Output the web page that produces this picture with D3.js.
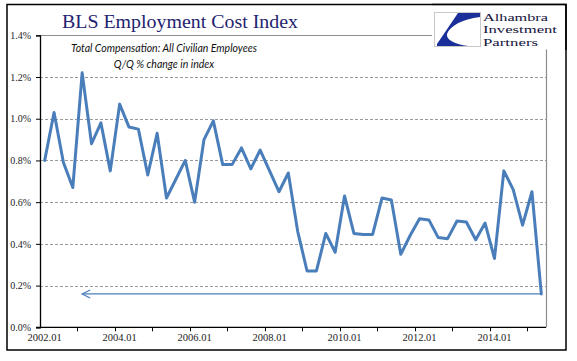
<!DOCTYPE html>
<html>
<head>
<meta charset="utf-8">
<script src="https://cdn.jsdelivr.net/npm/d3@7"></script>
<style>
  html, body { margin: 0; padding: 0; background: #fff; }
  svg { display: block; }
</style>
</head>
<body>
<svg id="chart" width="577" height="361"></svg>
<script>
// ---- data ----
const categories = [
  "2002.01","2002.02","2002.03","2002.04",
  "2003.01","2003.02","2003.03","2003.04",
  "2004.01","2004.02","2004.03","2004.04",
  "2005.01","2005.02","2005.03","2005.04",
  "2006.01","2006.02","2006.03","2006.04",
  "2007.01","2007.02","2007.03","2007.04",
  "2008.01","2008.02","2008.03","2008.04",
  "2009.01","2009.02","2009.03","2009.04",
  "2010.01","2010.02","2010.03","2010.04",
  "2011.01","2011.02","2011.03","2011.04",
  "2012.01","2012.02","2012.03","2012.04",
  "2013.01","2013.02","2013.03","2013.04",
  "2014.01","2014.02","2014.03","2014.04",
  "2015.01","2015.02"
];
const values = [
  0.80, 1.03, 0.79, 0.67,
  1.22, 0.88, 0.98, 0.75,
  1.07, 0.96, 0.95, 0.73,
  0.93, 0.62, 0.71, 0.80,
  0.60, 0.90, 0.99, 0.78,
  0.78, 0.86, 0.76, 0.85,
  0.75, 0.65, 0.74, 0.46,
  0.27, 0.27, 0.45, 0.36,
  0.63, 0.45, 0.445, 0.445,
  0.62, 0.61, 0.35, 0.44,
  0.52, 0.515, 0.43, 0.425,
  0.51, 0.505, 0.42, 0.50,
  0.33, 0.75, 0.66, 0.49,
  0.65, 0.16
];
const yTicks = [0, 0.2, 0.4, 0.6, 0.8, 1.0, 1.2, 1.4];
const xLabelCats = ["2002.01","2004.01","2006.01","2008.01","2010.01","2012.01","2014.01"];
const xTickCats = ["2003.01","2004.01","2005.01","2006.01","2007.01","2008.01","2009.01",
                   "2010.01","2011.01","2012.01","2013.01","2014.01","2015.01"];
const arrowEndCat = "2003.01";
const title = "BLS Employment Cost Index";
const subtitle = ["Total Compensation: All Civilian Employees", "Q/Q % change in index"];
const logoText = ["Alhambra", "Investment", "Partners"];

// ---- layout ----
const svg = d3.select("#chart");
const L = 40, R = 546, T = 35.3, B = 327.3;
const x = d3.scaleBand().domain(categories).range([L, R]).paddingInner(0).paddingOuter(0);
const y = d3.scaleLinear().domain([0, 1.4]).range([B, T]);
const serif = "'Liberation Serif', 'Times New Roman', serif";

// outer frame
svg.append("rect").attr("x", 7).attr("y", 4.5).attr("width", 559).attr("height", 345.5)
  .attr("fill", "#fff").attr("stroke", "#000").attr("stroke-width", 1.5);

// gridlines
svg.append("g").selectAll("line").data(yTicks.filter(d => d > 0 && d < 1.4)).join("line")
  .attr("x1", L).attr("x2", R)
  .attr("y1", d => Math.round(y(d)) + 0.5).attr("y2", d => Math.round(y(d)) + 0.5)
  .attr("stroke", "#9a9a9a").attr("stroke-width", 1).attr("stroke-dasharray", "3,2");

// plot border (top & right)
svg.append("path")
  .attr("d", `M${L},${Math.round(T)+0.5}H${R+0.5}V${B}`)
  .attr("fill", "none").attr("stroke", "#8c8c8c").attr("stroke-width", 1.2);

// y axis
const yAxis = d3.axisLeft(y).tickValues(yTicks).tickSize(4).tickPadding(5)
  .tickFormat(d => d.toFixed(1) + "%");
const gy = svg.append("g").attr("transform", `translate(${L},0)`).call(yAxis);
gy.select(".domain").attr("stroke", "#000").attr("stroke-width", 1.3);
gy.selectAll(".tick line").attr("stroke", "#000");
gy.selectAll("text").attr("font-family", serif).attr("font-size", 10).attr("fill", "#222");

// x axis (labels centred on categories)
const xAxis = d3.axisBottom(x).tickValues(xLabelCats).tickSize(0).tickPadding(6);
const gx = svg.append("g").attr("transform", `translate(0,${B})`).call(xAxis);
gx.select(".domain").remove();
gx.selectAll("text").attr("font-family", serif).attr("font-size", 10.5).attr("fill", "#222");
// x axis line and tick marks at category boundaries
svg.append("line").attr("x1", L - 4).attr("x2", R).attr("y1", B).attr("y2", B)
  .attr("stroke", "#000").attr("stroke-width", 1.3);
svg.append("g").selectAll("line").data(xTickCats).join("line")
  .attr("x1", d => Math.round(x(d)) + 0.5).attr("x2", d => Math.round(x(d)) + 0.5)
  .attr("y1", B).attr("y2", B + 4).attr("stroke", "#000");

// series line
const cx = c => x(c) + x.bandwidth() / 2;
const line = d3.line().x((d, i) => cx(categories[i])).y(d => y(d));
svg.append("path").datum(values).attr("d", line)
  .attr("fill", "none").attr("stroke", "#4A7EBB").attr("stroke-width", 3)
  .attr("stroke-linejoin", "round").attr("stroke-linecap", "round");

// arrow back from last value
const lastCat = categories[categories.length - 1];
const lastVal = values[values.length - 1];
const ay = y(lastVal);
const ax0 = cx(lastCat), ax1 = cx(arrowEndCat);
svg.append("line").attr("x1", ax0).attr("x2", ax1).attr("y1", ay).attr("y2", ay)
  .attr("stroke", "#4A7EBB").attr("stroke-width", 1.2);
svg.append("path")
  .attr("d", `M${ax1 + 8},${ay - 4}L${ax1},${ay}L${ax1 + 8},${ay + 4}`)
  .attr("fill", "none").attr("stroke", "#4A7EBB").attr("stroke-width", 1.2);

// title
svg.append("text").attr("x", 62).attr("y", 28).text(title)
  .attr("font-family", serif).attr("font-size", 19).attr("fill", "#1F2370")
  .attr("textLength", 236).attr("lengthAdjust", "spacingAndGlyphs");

// subtitle
svg.append("g").selectAll("text").data(subtitle).join("text")
  .attr("x", 164).attr("y", (d, i) => 52 + i * 16).attr("text-anchor", "middle")
  .attr("font-family", "Lato, 'Open Sans', sans-serif").attr("font-style", "italic")
  .attr("font-size", 10.5).attr("fill", "#111").text(d => d);

// logo
const logo = svg.append("g");
logo.append("rect").attr("x", 432).attr("y", 5.5).attr("width", 132).attr("height", 44).attr("fill", "#fff");
logo.append("rect").attr("x", 434.5).attr("y", 12.5).attr("width", 46).attr("height", 34)
  .attr("fill", "#fff").attr("stroke", "#c8c8c8");
logo.append("path")
  .attr("d", "M458,13 L480,13 L480,17 C462,19 450,26 447,34 C446,40 455,44 468,46 L437,46 L437,44 Z")
  .attr("fill", "#1B2F9B");
logo.selectAll("text.l").data(logoText).join("text").attr("class", "l")
  .attr("x", 483).attr("y", (d, i) => 20.5 + i * 12.6)
  .attr("font-family", serif).attr("font-size", 11).attr("fill", "#14143c")
  .attr("textLength", (d, i) => [65, 74, 55][i]).attr("lengthAdjust", "spacingAndGlyphs")
  .text(d => d);
// restore frame top/right edges over logo background
svg.append("path").attr("d", "M432,4.5H566V50").attr("fill", "none").attr("stroke", "#000").attr("stroke-width", 1.5);
</script>
</body>
</html>
